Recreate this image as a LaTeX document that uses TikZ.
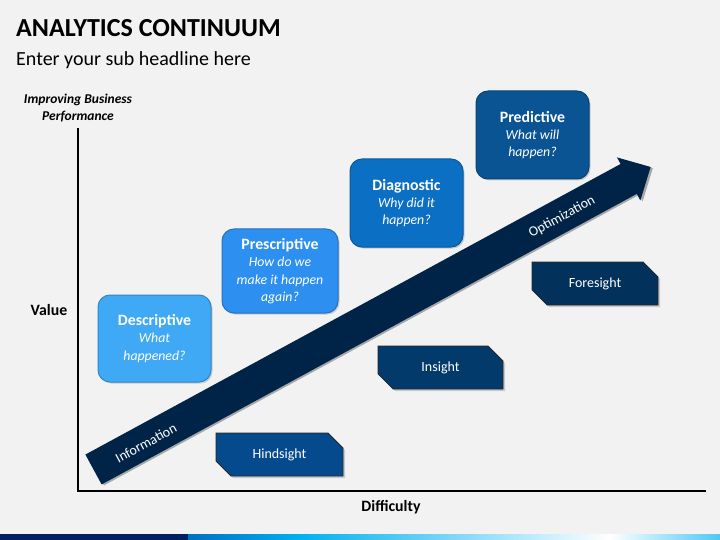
\documentclass[tikz,border=0pt]{standalone}
\usepackage{fontspec}
\setmainfont{Carlito}
\usetikzlibrary{shapes.misc,shadows}
\definecolor{bgc}{HTML}{F2F2F2}
\definecolor{navy}{HTML}{002448}
\definecolor{cdesc}{HTML}{3FA9F5}
\definecolor{cpres}{HTML}{2D8FF0}
\definecolor{cdiag}{HTML}{0B6FC4}
\definecolor{cpred}{HTML}{0A5494}
\definecolor{chind}{HTML}{064A8E}
\definecolor{cins}{HTML}{033A6C}
\definecolor{cfore}{HTML}{02325C}
\definecolor{bandA}{HTML}{002060}
\definecolor{bandB}{HTML}{0070C0}
\definecolor{bandC}{HTML}{00B0F0}
\newcommand\myqtf{\fontsize{15.8}{17.3}\selectfont\bfseries}
\begin{document}
\begin{tikzpicture}[x=1pt,y=-1pt,
  qbox/.style={rounded corners=12pt, draw=#1!80!black, line width=1pt, fill=#1,
    minimum width=113pt, minimum height=87pt, text=white, align=center,
    inner sep=1pt, font=\fontsize{13.8}{17.3}\selectfont,
    drop shadow={shadow xshift=1.5pt, shadow yshift=-1.5pt, opacity=0.35}},
  sbox/.style={chamfered rectangle, chamfered rectangle corners={north east,south west},
    chamfered rectangle xsep=9pt, chamfered rectangle ysep=9pt,
    draw=black!85, line width=0.8pt, fill=#1, text=white,
    minimum width=127pt, minimum height=43pt, inner sep=0pt,
    font=\fontsize{14}{16}\selectfont,
    drop shadow={shadow xshift=2pt, shadow yshift=-2pt, opacity=0.35}},
  axlab/.style={font=\fontsize{15.8}{18}\selectfont\bfseries},
  axline/.style={line width=2pt, black},
  arrlab/.style={text=white, font=\fontsize{14}{16}\selectfont, rotate=28.5}
]
\useasboundingbox (0,0) rectangle (720,540);
\fill[bgc] (0,0) rectangle (720,540);
% bottom band
\fill[bandA] (0,534) rectangle (188,540);
\shade[left color=bandB, right color=bandC] (188,534) rectangle (300,540);
\shade[left color=bandC, right color=white] (300,534) rectangle (610,540);
\shade[left color=white, right color=bandC!70] (610,534) rectangle (720,540);

% titles
\node[anchor=base west, inner sep=0pt, font=\fontsize{26}{30}\selectfont\bfseries] (title) at (16,37) {ANALYTICS CONTINUUM};
\node[anchor=base west, inner sep=0pt, font=\fontsize{20}{24}\selectfont] (sub) at (16,66) {Enter your sub headline here};

% axes
\coordinate (ytop) at (78,128);
\coordinate (orig) at (78,491);
\coordinate (xend) at (706,491);
\draw[axline] (ytop) -- (orig) -- (xend);
\node[align=center, font=\fontsize{13.5}{17}\selectfont\bfseries\itshape] (ylab) at (78,108.5) {Improving Business\\Performance};
\node[axlab] (val) at (49,310) {Value};
\node[axlab] (diff) at (391,507) {Difficulty};

% big arrow
\begin{scope}[shift={(93.5,469.5)}, rotate=28.5]
  \fill[black, opacity=0.3, shift={(1.5pt,-2pt)}] (0,-17) -- (609,-17) -- (609,-24.5) -- (634,0) -- (609,24.5) -- (609,17) -- (0,17) -- cycle;
  \fill[navy] (0,-17) -- (609,-17) -- (609,-24.5) -- (634,0) -- (609,24.5) -- (609,17) -- (0,17) -- cycle;
\end{scope}
\node[arrlab] (info) at (146,443) {Information};
\node[arrlab] (optim) at (562,217) {Optimization};

% rounded boxes
\node[qbox=cdesc] (desc) at (154.5,338.5) {{\myqtf Descriptive}\\\itshape What\\\itshape happened?};
\node[qbox=cpres, minimum width=116pt, minimum height=84pt] (pres) at (280,271) {{\myqtf Prescriptive}\\\itshape How do we\\\itshape make it happen\\\itshape again?};
\node[qbox=cdiag, minimum height=88pt] (diag) at (406.5,203) {{\myqtf Diagnostic}\\\itshape Why did it\\\itshape happen?};
\node[qbox=cpred, minimum height=88pt] (pred) at (532.5,135) {{\myqtf Predictive}\\\itshape What will\\\itshape happen?};

% snip boxes
\node[sbox=chind] (hind) at (279.5,454.5) {Hindsight};
\node[sbox=cins, minimum width=125pt] (ins) at (440.5,367.5) {Insight};
\node[sbox=cfore, minimum width=126pt] (fore) at (595,283.5) {Foresight};
\end{tikzpicture}
\end{document}
